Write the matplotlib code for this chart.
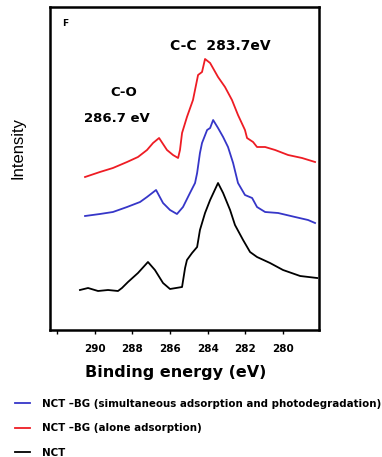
import matplotlib
matplotlib.use("Agg")
import matplotlib.pyplot as plt

# Binding energy (eV) and intensity (a.u., stacked as shown)
red_x = [290.51, 289.72, 289.03, 288.28, 287.70, 287.22, 286.90, 286.58, 286.16, 285.84,
         285.57, 285.47, 285.36, 285.10, 284.78, 284.51, 284.30, 284.14, 283.87, 283.45,
         283.08, 282.71, 282.39, 282.02, 281.91, 281.59, 281.38, 280.95, 280.42, 279.73,
         278.99, 278.30]
red_y = [153, 158, 162, 168, 173, 180, 187, 192, 180, 175,
         172, 180, 197, 213, 230, 255, 258, 271, 267, 253,
         243, 230, 215, 200, 192, 188, 183, 183, 180, 175,
         172, 168]

blue_x = [290.51, 289.72, 289.03, 288.28, 287.59, 287.22, 286.74, 286.37, 286.00, 285.63,
          285.31, 284.94, 284.67, 284.56, 284.41, 284.30, 284.03, 283.87, 283.71, 283.45,
          283.18, 282.92, 282.65, 282.39, 282.02, 281.64, 281.38, 280.95, 280.26, 279.36,
          278.67, 278.30]
blue_y = [114, 116, 118, 123, 128, 133, 140, 127, 120, 116,
          123, 137, 147, 157, 177, 187, 200, 202, 210, 202,
          193, 183, 167, 147, 135, 132, 123, 118, 117, 113,
          110, 107]

black_x = [290.78, 290.35, 289.82, 289.29, 288.76, 288.55, 288.23, 287.70, 287.17, 286.80,
           286.37, 286.00, 285.36, 285.20, 285.10, 284.83, 284.56, 284.41, 284.14, 283.87,
           283.45, 283.18, 282.81, 282.55, 282.12, 281.75, 281.38, 280.69, 280.00, 279.09,
           278.19]
black_y = [40, 42, 39, 40, 39, 42, 48, 57, 68, 60,
           47, 41, 43, 62, 70, 77, 83, 100, 117, 130,
           147, 137, 120, 105, 90, 78, 73, 67, 60, 54,
           52]

tick_vals = [292, 290, 288, 286, 284, 282, 280]
tick_labels = ["", "290", "288", "286", "284", "282", "280"]

series_labels = ["NCT \u2013BG (simultaneous adsorption and photodegradation)",
                 "NCT \u2013BG (alone adsorption)",
                 "NCT"]

plt.rcParams['font.family'] = ['DejaVu Sans']

fig = plt.figure(figsize=(3.82, 4.57), dpi=100)
ax = fig.add_axes([50/382, 1-330/457, (319-50)/382, (330-7)/457])

lb, = ax.plot(blue_x, blue_y, color='#3636c8', lw=1.3)
lr, = ax.plot(red_x, red_y, color='#ee1c24', lw=1.3)
lk, = ax.plot(black_x, black_y, color='black', lw=1.3)

ax.set_xlim(292.37, 278.09)
ax.set_ylim(0, 323)
ax.set_yticks([])
ax.set_xticks(tick_vals)
ax.set_xticklabels(tick_labels, fontsize=7.5, fontweight='bold')
ax.tick_params(axis='x', direction='out', length=3, width=1, pad=7)
for s in ax.spines.values():
    s.set_linewidth(1.8)

ax.set_xlabel("Binding energy (eV)", fontsize=11.5, fontweight='bold')
ax.xaxis.set_label_coords((176-50)/269, -(372-330)/323)
ax.xaxis.label.set_va('center')
fig.text(18/382, 1-148/457, "Intensity", rotation=90, fontsize=12,
         family=['Liberation Sans Narrow', 'Liberation Sans', 'DejaVu Sans'],
         ha='center', va='center')

fig.text(65/382, 1-23/457, "F", fontsize=6.5, fontweight='bold', ha='center', va='center')
ax.text(283.35, 284, "C-C  283.7eV", fontsize=10, fontweight='bold', ha='center', va='center')
ax.text(288.44, 237, "C-O", fontsize=9.5, fontweight='bold', ha='center', va='center')
ax.text(288.81, 212, "286.7 eV", fontsize=9.5, fontweight='bold', ha='center', va='center')

fig.legend([lb, lr, lk], series_labels, loc='upper left',
           bbox_to_anchor=(15/382, 1-399/457), frameon=False,
           prop={'size': 7.4, 'weight': 'bold'}, handlelength=1.45,
           handletextpad=1.15, labelspacing=1.4, borderaxespad=0, borderpad=0)

fig.savefig("out.png", dpi=100)
